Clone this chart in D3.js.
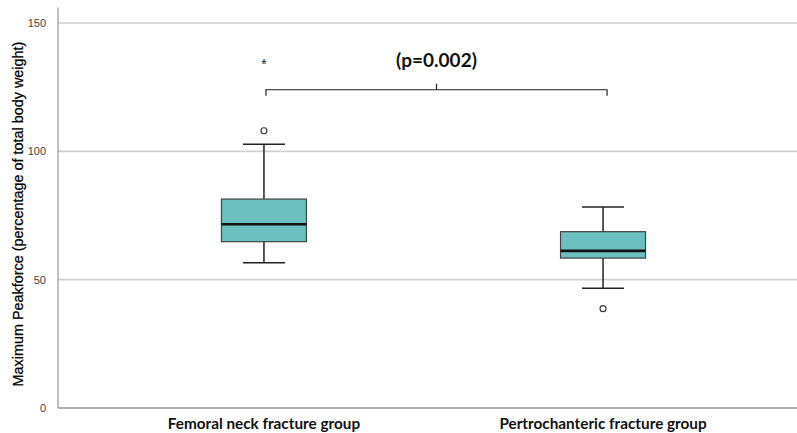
<!DOCTYPE html>
<html>
<head>
<meta charset="utf-8" />
<title>Maximum Peakforce by fracture group</title>
<script src="https://cdnjs.cloudflare.com/ajax/libs/d3/7.8.5/d3.min.js"></script>
<style>
body { margin: 0; background: #fff; }
svg { display: block; }
</style>
</head>
<body>
<svg id="chart" width="797" height="433"></svg>
<script>
// data
const groups = ["Femoral neck fracture group", "Pertrochanteric fracture group"];
const whiskerLow = [56.6, 46.7];
const q1 = [64.8, 58.4];
const median = [71.6, 61.2];
const q3 = [81.4, 68.7];
const whiskerHigh = [102.8, 78.3];
const outliers = [[0, 108], [1, 38.7]];
const extremes = [[0, 135]];
const yTicks = [0, 50, 100, 150];
const pLabel = "(p=0.002)";
const bracketValue = 124;

const svg = d3.select("#chart");
const width = 797;
const axisX = 58;
const sans = "'Liberation Sans', Arial, sans-serif";

let y = d3.scaleLinear().domain([0, 150]).range([408, 23]);
let x = d3.scalePoint().domain(groups).range([70, 797]).padding(0.572);

// gridlines
svg.append("g")
	.selectAll("line")
	.data(yTicks.slice(1))
	.enter()
	.append("line")
		.attr("x1", axisX).attr("x2", width)
		.attr("y1", d => y(d)).attr("y2", d => y(d))
		.attr("stroke", "#cfcfcf")
		.attr("stroke-width", 1.6);

// y axis
let yAxis = svg.append("g")
	.attr("transform", "translate(" + axisX + ",0)")
	.call(d3.axisLeft(y).tickValues(yTicks).tickSize(0).tickPadding(12));
yAxis.select(".domain").remove();
yAxis.selectAll("text")
	.attr("font-family", sans)
	.attr("font-size", 11)
	.attr("fill", "#444");
svg.append("line")
	.attr("x1", axisX).attr("x2", axisX)
	.attr("y1", y(0)).attr("y2", y(156))
	.attr("stroke", "#999").attr("stroke-width", 1.2);

// x axis
svg.append("line")
	.attr("x1", axisX).attr("x2", width)
	.attr("y1", y(0)).attr("y2", y(0))
	.attr("stroke", "#999").attr("stroke-width", 1.6);
svg.append("g")
	.selectAll("text")
	.data(groups)
	.enter()
	.append("text")
		.attr("x", d => x(d))
		.attr("y", 429)
		.attr("text-anchor", "middle")
		.attr("font-family", "Lato, sans-serif")
		.attr("font-weight", "bold")
		.attr("font-size", 15.3)
		.attr("fill", "#111")
		.text(d => d);

// y label
svg.append("text")
	.attr("transform", "translate(23," + 214 + ") rotate(-90)")
	.attr("text-anchor", "middle")
	.attr("font-family", sans)
	.attr("font-size", 14.4)
	.attr("stroke", "#000")
	.attr("stroke-width", 0.25)
	.attr("fill", "#000")
	.text("Maximum Peakforce (percentage of total body weight)");

// boxes
const boxW = 85, capW = 42;
let boxes = svg.append("g")
	.selectAll("g")
	.data(groups)
	.enter()
	.append("g");

boxes.append("line")
	.attr("x1", d => x(d)).attr("x2", d => x(d))
	.attr("y1", (d, i) => y(whiskerLow[i])).attr("y2", (d, i) => y(whiskerHigh[i]))
	.attr("stroke", "#222").attr("stroke-width", 1.5);
boxes.selectAll(".cap")
	.data((d, i) => [whiskerLow[i], whiskerHigh[i]].map(v => [d, v]))
	.enter()
	.append("line")
		.attr("x1", d => x(d[0]) - capW / 2).attr("x2", d => x(d[0]) + capW / 2)
		.attr("y1", d => y(d[1])).attr("y2", d => y(d[1]))
		.attr("stroke", "#222").attr("stroke-width", 1.5);
boxes.append("rect")
	.attr("x", d => x(d) - boxW / 2)
	.attr("width", boxW)
	.attr("y", (d, i) => y(q3[i]))
	.attr("height", (d, i) => y(q1[i]) - y(q3[i]))
	.attr("fill", "#6cc0c0")
	.attr("stroke", "#444")
	.attr("stroke-width", 1.2);
boxes.append("line")
	.attr("x1", d => x(d) - boxW / 2).attr("x2", d => x(d) + boxW / 2)
	.attr("y1", (d, i) => y(median[i])).attr("y2", (d, i) => y(median[i]))
	.attr("stroke", "#111").attr("stroke-width", 2.6);

// outliers
svg.append("g")
	.selectAll("circle")
	.data(outliers)
	.enter()
	.append("circle")
		.attr("cx", d => x(groups[d[0]]))
		.attr("cy", d => y(d[1]))
		.attr("r", 3)
		.attr("fill", "#fff")
		.attr("stroke", "#333")
		.attr("stroke-width", 1.1);
svg.append("g")
	.selectAll("text")
	.data(extremes)
	.enter()
	.append("text")
		.attr("x", d => x(groups[d[0]]))
		.attr("y", d => y(d[1]) + 7)
		.attr("text-anchor", "middle")
		.attr("font-family", sans)
		.attr("font-size", 14)
		.attr("fill", "#222")
		.text("*");

// significance bracket
let bx1 = x(groups[0]) + 2, bx2 = x(groups[1]) + 4, by = y(bracketValue);
let bmid = (bx1 + bx2) / 2;
svg.append("path")
	.attr("d", "M" + bx1 + "," + (by + 6) + "V" + by + "H" + bx2 + "V" + (by + 6) +
		"M" + bmid + "," + by + "V" + (by - 6))
	.attr("fill", "none")
	.attr("stroke", "#222")
	.attr("stroke-width", 1.2);
svg.append("text")
	.attr("x", bmid)
	.attr("y", 67)
	.attr("text-anchor", "middle")
	.attr("font-family", "Lato, sans-serif")
	.attr("font-weight", "bold")
	.attr("font-size", 19)
	.attr("fill", "#111")
	.text(pLabel);
</script>
</body>
</html>
